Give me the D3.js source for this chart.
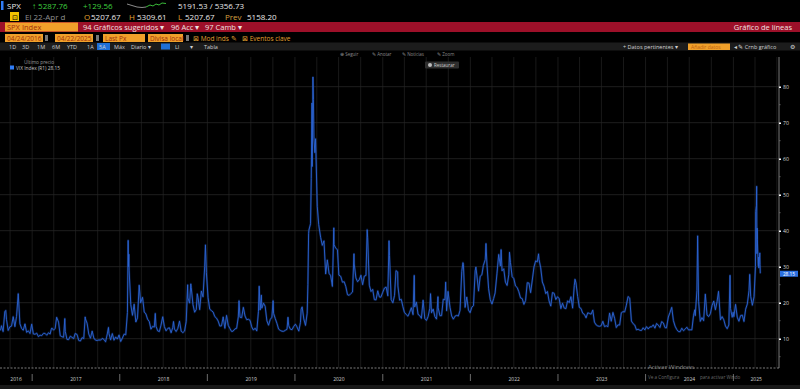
<!DOCTYPE html>
<html><head><meta charset="utf-8">
<script src="https://cdn.jsdelivr.net/npm/d3@7"></script>
<style>
body{margin:0;background:#000;}
svg{display:block;font-family:"Open Sans","Liberation Sans",sans-serif;}
</style>
</head><body><svg id="c" width="800" height="389"></svg>
<script>
// ---- DATA ----
const vixSeries = [
["2016-08-22",12.3],["2016-08-26",13.6],["2016-09-02",11.98],["2016-09-09",17.50],["2016-09-13",17.85],["2016-09-16",15.37],["2016-09-23",12.29],["2016-09-30",13.29],
["2016-10-07",13.48],["2016-10-14",16.12],["2016-10-21",13.34],["2016-10-28",16.19],["2016-11-04",22.51],["2016-11-11",14.17],["2016-11-18",12.85],["2016-11-25",12.34],
["2016-12-02",14.12],["2016-12-09",11.75],["2016-12-16",12.20],["2016-12-23",11.44],["2016-12-30",14.04],
["2017-01-06",11.32],["2017-01-13",11.23],["2017-01-20",11.54],["2017-01-27",10.58],["2017-02-03",10.97],["2017-02-10",10.85],["2017-02-17",11.49],["2017-02-24",11.47],
["2017-03-03",10.96],["2017-03-10",11.66],["2017-03-17",11.28],["2017-03-21",12.47],["2017-03-24",12.96],["2017-03-31",12.37],["2017-04-07",12.87],["2017-04-13",15.96],
["2017-04-21",14.63],["2017-04-28",10.82],["2017-05-05",10.57],["2017-05-12",10.40],["2017-05-17",15.59],["2017-05-19",12.04],["2017-05-26",9.81],["2017-06-02",9.75],
["2017-06-09",10.70],["2017-06-16",10.38],["2017-06-23",10.02],["2017-06-29",11.44],["2017-07-07",11.19],["2017-07-14",9.51],["2017-07-21",9.36],["2017-07-28",10.29],
["2017-08-04",10.03],["2017-08-10",16.04],["2017-08-11",15.51],["2017-08-18",14.26],["2017-08-25",11.28],["2017-09-01",10.13],["2017-09-08",12.12],["2017-09-15",10.17],
["2017-09-22",9.59],["2017-09-29",9.51],["2017-10-06",9.65],["2017-10-13",9.61],["2017-10-20",10.08],["2017-10-27",9.80],["2017-11-03",9.14],["2017-11-10",11.29],
["2017-11-15",13.13],["2017-11-17",11.43],["2017-11-24",9.67],["2017-12-01",11.43],["2017-12-08",9.58],["2017-12-15",10.49],["2017-12-22",9.90],["2017-12-29",11.04],
["2018-01-05",9.22],["2018-01-12",10.16],["2018-01-19",11.27],["2018-01-26",11.08],["2018-02-02",17.31],["2018-02-05",37.32],["2018-02-06",29.98],["2018-02-08",33.46],
["2018-02-09",29.06],["2018-02-16",19.46],["2018-02-23",16.49],["2018-03-02",19.59],["2018-03-09",14.64],["2018-03-16",15.80],["2018-03-23",24.87],["2018-03-29",19.97],
["2018-04-06",21.49],["2018-04-13",17.41],["2018-04-20",16.88],["2018-04-27",15.41],["2018-05-04",14.77],["2018-05-11",12.65],["2018-05-18",13.42],["2018-05-25",13.22],
["2018-05-29",17.02],["2018-06-01",13.46],["2018-06-08",12.18],["2018-06-15",11.98],["2018-06-22",13.77],["2018-06-29",16.09],["2018-07-06",13.37],["2018-07-13",12.18],
["2018-07-20",12.86],["2018-07-27",13.03],["2018-08-03",11.64],["2018-08-10",13.16],["2018-08-13",14.78],["2018-08-17",12.64],["2018-08-24",11.99],["2018-08-31",12.86],
["2018-09-07",14.88],["2018-09-14",12.07],["2018-09-21",11.68],["2018-09-28",12.12],["2018-10-05",14.82],["2018-10-11",24.98],["2018-10-12",21.31],["2018-10-19",19.89],
["2018-10-24",25.23],["2018-10-26",24.16],["2018-11-02",19.51],["2018-11-09",17.36],["2018-11-16",18.14],["2018-11-20",22.48],["2018-11-23",21.52],["2018-11-30",18.07],
["2018-12-07",23.23],["2018-12-14",21.63],["2018-12-21",30.11],["2018-12-24",36.07],["2018-12-28",28.34],
["2019-01-04",21.38],["2019-01-11",18.19],["2019-01-18",17.80],["2019-01-25",17.42],["2019-02-01",16.14],["2019-02-08",15.72],["2019-02-15",14.91],["2019-02-22",13.51],
["2019-03-01",13.57],["2019-03-08",16.05],["2019-03-15",12.88],["2019-03-22",16.48],["2019-03-29",13.71],["2019-04-05",12.82],["2019-04-12",12.01],["2019-04-18",12.09],
["2019-04-26",12.73],["2019-05-03",12.87],["2019-05-10",16.04],["2019-05-13",20.55],["2019-05-17",15.96],["2019-05-24",15.85],["2019-05-31",18.71],["2019-06-07",16.30],
["2019-06-14",15.28],["2019-06-21",15.40],["2019-06-28",15.08],["2019-07-05",13.28],["2019-07-12",12.39],["2019-07-19",12.93],["2019-07-26",12.16],["2019-08-02",17.61],
["2019-08-05",24.59],["2019-08-09",17.97],["2019-08-14",22.10],["2019-08-16",18.47],["2019-08-23",19.87],["2019-08-30",18.98],["2019-09-06",15.00],["2019-09-13",13.74],
["2019-09-20",15.32],["2019-09-27",15.96],["2019-10-02",20.56],["2019-10-04",17.04],["2019-10-11",15.58],["2019-10-18",14.25],["2019-10-25",12.65],["2019-11-01",12.30],
["2019-11-08",12.07],["2019-11-15",12.05],["2019-11-22",12.34],["2019-11-29",12.62],["2019-12-03",15.96],["2019-12-06",13.62],["2019-12-13",12.63],["2019-12-20",12.51],["2019-12-27",13.43],
["2020-01-03",14.02],["2020-01-08",13.45],["2020-01-17",12.10],["2020-01-24",14.56],["2020-01-27",18.23],["2020-01-31",18.84],["2020-02-07",15.47],["2020-02-14",13.68],
["2020-02-21",17.08],["2020-02-24",25.03],["2020-02-27",39.16],["2020-02-28",40.11],["2020-03-06",41.94],["2020-03-09",54.46],["2020-03-12",75.47],["2020-03-13",57.83],
["2020-03-16",82.69],["2020-03-18",76.45],["2020-03-20",66.04],["2020-03-24",61.67],["2020-03-27",65.54],["2020-04-03",46.80],["2020-04-09",41.67],["2020-04-17",38.15],
["2020-04-24",35.93],["2020-05-01",37.19],["2020-05-08",27.98],["2020-05-15",31.89],["2020-05-22",28.16],["2020-05-29",27.51],["2020-06-05",24.52],["2020-06-11",40.79],
["2020-06-12",36.09],["2020-06-19",35.12],["2020-06-26",34.73],["2020-07-02",27.68],["2020-07-10",27.29],["2020-07-17",25.68],["2020-07-24",25.84],["2020-07-31",24.46],
["2020-08-07",22.21],["2020-08-14",22.05],["2020-08-21",22.54],["2020-08-28",22.96],["2020-09-03",33.60],["2020-09-04",30.75],["2020-09-11",26.87],["2020-09-18",25.83],
["2020-09-25",26.38],["2020-10-02",27.63],["2020-10-09",25.00],["2020-10-16",27.41],["2020-10-23",27.55],["2020-10-28",40.28],["2020-10-30",38.02],["2020-11-06",24.86],
["2020-11-13",23.10],["2020-11-20",23.70],["2020-11-27",20.84],["2020-12-04",20.79],["2020-12-11",23.31],["2020-12-18",21.57],["2020-12-24",21.53],["2020-12-31",22.75],
["2021-01-08",24.08],["2021-01-15",24.34],["2021-01-22",21.91],["2021-01-27",37.21],["2021-01-29",33.09],["2021-02-05",20.87],["2021-02-12",19.97],["2021-02-19",22.05],
["2021-02-25",28.89],["2021-03-04",28.57],["2021-03-05",24.66],["2021-03-12",20.69],["2021-03-19",20.95],["2021-03-26",18.86],["2021-04-01",17.33],["2021-04-09",16.69],
["2021-04-16",16.25],["2021-04-23",17.33],["2021-04-30",18.61],["2021-05-07",16.69],["2021-05-12",27.59],["2021-05-14",18.81],["2021-05-21",20.15],["2021-05-28",16.76],
["2021-06-04",16.42],["2021-06-11",15.65],["2021-06-18",20.70],["2021-06-25",15.62],["2021-07-02",15.07],["2021-07-09",16.18],["2021-07-16",18.45],["2021-07-19",22.50],
["2021-07-23",17.20],["2021-07-30",18.24],["2021-08-06",16.15],["2021-08-13",15.45],["2021-08-19",21.67],["2021-08-20",18.56],["2021-08-27",16.39],["2021-09-03",16.41],
["2021-09-10",20.95],["2021-09-17",20.81],["2021-09-20",25.71],["2021-09-24",17.75],["2021-09-30",23.14],["2021-10-08",18.77],["2021-10-15",16.30],["2021-10-22",15.43],
["2021-10-29",16.26],["2021-11-05",16.48],["2021-11-12",16.29],["2021-11-19",17.91],["2021-11-26",28.62],["2021-12-01",31.12],["2021-12-03",30.67],["2021-12-10",18.69],
["2021-12-17",21.57],["2021-12-24",17.96],["2021-12-31",17.22],
["2022-01-07",18.76],["2022-01-14",19.19],["2022-01-21",28.85],["2022-01-24",29.90],["2022-01-28",27.66],["2022-02-04",23.22],["2022-02-11",27.36],["2022-02-18",27.75],
["2022-02-24",30.32],["2022-03-04",31.98],["2022-03-07",36.45],["2022-03-11",30.75],["2022-03-18",23.87],["2022-03-25",20.81],["2022-04-01",19.63],["2022-04-08",21.16],
["2022-04-14",22.70],["2022-04-22",28.21],["2022-04-29",33.40],["2022-05-06",30.19],["2022-05-09",34.75],["2022-05-13",28.87],["2022-05-20",29.43],["2022-05-27",25.72],
["2022-06-03",24.79],["2022-06-10",27.75],["2022-06-13",34.02],["2022-06-17",31.13],["2022-06-24",27.23],["2022-07-01",26.70],["2022-07-08",24.64],["2022-07-15",24.23],
["2022-07-22",23.03],["2022-07-29",21.33],["2022-08-05",21.15],["2022-08-12",19.53],["2022-08-19",20.60],["2022-08-26",25.56],["2022-09-02",25.47],["2022-09-09",22.79],
["2022-09-16",26.30],["2022-09-23",29.92],["2022-09-30",31.62],["2022-10-07",31.36],["2022-10-12",33.57],["2022-10-14",32.02],["2022-10-21",29.69],["2022-10-28",25.75],
["2022-11-04",24.55],["2022-11-11",22.52],["2022-11-18",23.12],["2022-11-25",20.50],["2022-12-02",19.06],["2022-12-09",22.83],["2022-12-16",22.62],["2022-12-23",20.87],["2022-12-30",21.67],
["2023-01-06",21.13],["2023-01-13",18.35],["2023-01-20",19.85],["2023-01-27",18.51],["2023-02-03",18.33],["2023-02-10",20.53],["2023-02-17",20.02],["2023-02-24",21.67],
["2023-03-03",18.49],["2023-03-10",24.80],["2023-03-13",26.52],["2023-03-17",25.51],["2023-03-24",21.74],["2023-03-31",18.70],["2023-04-07",18.40],["2023-04-14",17.07],
["2023-04-21",16.77],["2023-04-28",15.78],["2023-05-05",17.19],["2023-05-12",17.03],["2023-05-19",16.81],["2023-05-26",17.95],["2023-06-02",14.60],["2023-06-09",13.83],
["2023-06-16",13.54],["2023-06-23",13.44],["2023-06-30",13.59],["2023-07-07",14.83],["2023-07-14",13.34],["2023-07-21",13.60],["2023-07-28",13.33],["2023-08-04",17.10],
["2023-08-11",14.84],["2023-08-18",17.30],["2023-08-25",15.68],["2023-09-01",13.09],["2023-09-08",13.84],["2023-09-15",13.79],["2023-09-22",17.20],["2023-09-29",17.52],
["2023-10-06",17.45],["2023-10-13",19.32],["2023-10-20",21.71],["2023-10-27",21.27],["2023-11-03",14.91],["2023-11-10",14.17],["2023-11-17",13.80],["2023-11-24",12.46],
["2023-12-01",12.63],["2023-12-08",12.35],["2023-12-15",12.28],["2023-12-22",13.03],["2023-12-29",12.45],
["2024-01-05",13.35],["2024-01-12",12.70],["2024-01-19",13.30],["2024-01-26",13.26],["2024-02-02",13.85],["2024-02-09",12.93],["2024-02-16",14.24],["2024-02-23",13.75],
["2024-03-01",13.11],["2024-03-08",14.74],["2024-03-15",14.41],["2024-03-22",13.06],["2024-03-28",13.01],["2024-04-05",16.03],["2024-04-12",17.31],["2024-04-19",18.71],
["2024-04-26",15.03],["2024-05-03",13.49],["2024-05-10",12.55],["2024-05-17",11.99],["2024-05-24",11.93],["2024-05-31",12.92],["2024-06-07",12.22],["2024-06-14",12.66],
["2024-06-21",13.20],["2024-06-28",12.44],["2024-07-05",12.48],["2024-07-12",12.46],["2024-07-19",16.52],["2024-07-24",18.04],["2024-07-26",16.39],["2024-08-02",23.39],
["2024-08-05",38.57],["2024-08-09",20.37],["2024-08-16",14.80],["2024-08-23",15.86],["2024-08-30",15.00],["2024-09-06",22.38],["2024-09-13",16.56],["2024-09-20",16.15],
["2024-09-27",16.96],["2024-10-04",19.21],["2024-10-11",20.46],["2024-10-18",18.03],["2024-10-25",20.33],["2024-10-31",23.16],["2024-11-08",15.24],["2024-11-15",16.14],
["2024-11-22",15.24],["2024-11-29",13.51],["2024-12-06",12.77],["2024-12-13",13.81],["2024-12-18",27.62],["2024-12-20",18.36],["2024-12-27",15.95],["2024-12-31",17.35],
["2025-01-03",16.13],["2025-01-10",19.54],["2025-01-17",15.97],["2025-01-24",14.85],["2025-01-31",16.43],["2025-02-07",16.54],["2025-02-14",14.77],["2025-02-21",18.21],
["2025-02-28",19.63],["2025-03-07",23.37],["2025-03-10",27.86],["2025-03-14",21.77],["2025-03-21",19.28],["2025-03-28",21.65],["2025-04-03",30.02],["2025-04-04",45.31],
["2025-04-07",46.98],["2025-04-08",52.33],["2025-04-09",33.62],["2025-04-10",40.72],["2025-04-11",37.56],["2025-04-14",30.89],["2025-04-15",30.12],["2025-04-16",32.64],
["2025-04-17",29.65],["2025-04-21",33.82],["2025-04-22",30.57],["2025-04-23",28.15]
];
const yTicks = [10,20,30,40,50,60,70,80];
const yearLabels = ["2016","2017","2018","2019","2020","2021","2022","2023","2024","2025"];
const lastPrice = "28.15";

// ---- SETUP ----
const svg = d3.select("#c");
const W = 800, H = 389;
const parse = d3.timeParse("%Y-%m-%d");
const data = vixSeries.map(d => ({date: parse(d[0]), v: d[1]}));

const plotL = 0, plotR = 779, plotT = 57, plotB = 368;
const x = d3.scaleTime().domain([new Date(2016,7,20), new Date(2025,6,10)]).range([plotL, plotR]);
const y = d3.scaleLinear().domain([10,80]).range([338.7, 86.7]);

svg.append("rect").attr("width",W).attr("height",H).attr("fill","#000");

// ---- HEADER ----
const hdr = svg.append("g").attr("font-size",8);
hdr.append("rect").attr("x",1).attr("y",1).attr("width",2.5).attr("height",9).attr("fill","#2f7cf6");
hdr.append("text").attr("x",7).attr("y",9).attr("fill","#e8e8e8").text("SPX");
hdr.append("text").attr("x",32).attr("y",9).attr("fill","#3fcf3f").text("↑ 5287.76");
hdr.append("text").attr("x",83).attr("y",9).attr("fill","#3fcf3f").text("+129.56");
const spark = [[127,4],[132,5.5],[137,7],[142,7.5],[146,7]];
const spark2 = [[146,7],[150,5],[153,6],[156,4],[159,5],[162,3],[166,3.5]];
hdr.append("path").attr("d",d3.line()(spark)).attr("stroke","#9a9a9a").attr("fill","none").attr("stroke-width",0.9);
hdr.append("path").attr("d",d3.line()(spark2)).attr("stroke","#3fcf3f").attr("fill","none").attr("stroke-width",0.9);
hdr.append("text").attr("x",178).attr("y",9).attr("fill","#e8e8e8").text("5191.53 / 5356.73");
hdr.append("rect").attr("x",10).attr("y",12).attr("width",9).attr("height",9).attr("fill","#f2c200");
hdr.append("text").attr("x",12).attr("y",19.5).attr("fill","#000").attr("font-size",7).text("⊡");
hdr.append("text").attr("x",25).attr("y",20).attr("fill","#8f8f8f").text("El 22-Apr d");
[["O",84,"5207.67",91],["H",129,"5309.61",137],["L",178,"5207.67",185]].forEach(r=>{
  hdr.append("text").attr("x",r[1]).attr("y",20).attr("fill","#e0a030").text(r[0]);
  hdr.append("text").attr("x",r[3]).attr("y",20).attr("fill","#e8e8e8").text(r[2]);
});
hdr.append("text").attr("x",225).attr("y",20).attr("fill","#d8a040").text("Prev");
hdr.append("text").attr("x",247).attr("y",20).attr("fill","#e8e8e8").text("5158.20");
hdr.append("rect").attr("x",0).attr("y",22).attr("width",W).attr("height",10).attr("fill","#9d1029");
hdr.append("rect").attr("x",5).attr("y",22.5).attr("width",73).attr("height",9).attr("fill","#f0a02a");
hdr.append("text").attr("x",7).attr("y",30).attr("fill","#a0300a").attr("font-size",7.5).text("SPX Index");
hdr.append("text").attr("x",83).attr("y",30).attr("fill","#f0e0e0").attr("font-size",7.5).text("94 Gráficos sugeridos ▾");
hdr.append("text").attr("x",171).attr("y",30).attr("fill","#f0e0e0").attr("font-size",7.5).text("96 Acc ▾");
hdr.append("text").attr("x",205).attr("y",30).attr("fill","#f0e0e0").attr("font-size",7.5).text("97 Camb ▾");
hdr.append("text").attr("x",792).attr("y",30).attr("text-anchor","end").attr("fill","#f0e0e0").attr("font-size",7.5).text("Gráfico de líneas");
[[5,38,"04/24/2016"],[55,38,"04/22/2025"],[103,42,"Last Px"],[148,35,"Divisa local"]].forEach(f=>{
  hdr.append("rect").attr("x",f[0]).attr("y",34).attr("width",f[1]).attr("height",8).attr("fill","#f0a02a");
  hdr.append("text").attr("x",f[0]+2).attr("y",40.5).attr("fill","#a0300a").attr("font-size",6.5).text(f[2]);
});
[45,96,186].forEach(px=>hdr.append("rect").attr("x",px).attr("y",35).attr("width",3).attr("height",6).attr("fill","#777"));
hdr.append("text").attr("x",193).attr("y",40.5).attr("fill","#e0a030").attr("font-size",6.5).text("⊠ Mod inds ✎");
hdr.append("text").attr("x",242).attr("y",40.5).attr("fill","#e0a030").attr("font-size",6.5).text("⊠ Eventos clave");
hdr.append("rect").attr("x",0).attr("y",42.5).attr("width",W).attr("height",8).attr("fill","#1c1c1c");
hdr.append("rect").attr("x",97).attr("y",43).attr("width",13).attr("height",7).attr("fill","#1f6fd6");
hdr.append("rect").attr("x",161).attr("y",43.5).attr("width",9).attr("height",6).attr("fill","#1f6fd6");
[["1D",9],["3D",22],["1M",37],["6M",52],["YTD",67],["1A",87],["5A",99],["Máx",114],["Diario ▾",131],["LI",175],["▾",190],["Tabla",204]].forEach(t=>{
  hdr.append("text").attr("x",t[1]).attr("y",48.8).attr("fill","#d0d0d0").attr("font-size",5.5).text(t[0]);
});
hdr.append("text").attr("x",623).attr("y",48.8).attr("fill","#d0d0d0").attr("font-size",5.5).text("+ Datos pertinentes ▾");
hdr.append("rect").attr("x",688).attr("y",43.5).attr("width",42).attr("height",6.5).attr("fill","#f0a02a");
hdr.append("text").attr("x",691).attr("y",48.8).attr("fill","#c06010").attr("font-size",5).text("Añadir datos");
hdr.append("text").attr("x",734).attr("y",48.8).attr("fill","#d0d0d0").attr("font-size",5.5).text("◂ ✎ Crnb gráfico");
hdr.append("text").attr("x",790).attr("y",48.8).attr("fill","#d0d0d0").attr("font-size",6).text("⚙");
[["⊕ Seguir",340],["✎ Anotar",372],["✎ Noticias",402],["✎ Zoom",437]].forEach(t=>{
  hdr.append("text").attr("x",t[1]).attr("y",56).attr("fill","#8a8a8a").attr("font-size",4.5).text(t[0]);
});

// ---- GRID ----
const grid = svg.append("g");
const quarters = d3.timeMonth.every(3).range(x.domain()[0], x.domain()[1]);
grid.selectAll("line.v").data(quarters).join("line")
  .attr("x1",d=>x(d)).attr("x2",d=>x(d)).attr("y1",plotT).attr("y2",plotB)
  .attr("stroke","#1f1f1f").attr("stroke-width",0.8);
grid.selectAll("line.h").data(yTicks).join("line")
  .attr("x1",plotL).attr("x2",plotR).attr("y1",d=>y(d)).attr("y2",d=>y(d))
  .attr("stroke","#262626").attr("stroke-width",0.8);

// ---- watermark (under axis labels) ----
svg.append("text").attr("x",648).attr("y",369).attr("fill","#7a7a7a").attr("font-size",6).text("Activar Windows");
svg.append("text").attr("x",648).attr("y",379).attr("fill","#6a6a6a").attr("font-size",4.6).text("Ve a Configura");
svg.append("text").attr("x",700).attr("y",379).attr("fill","#6a6a6a").attr("font-size",4.6).text("para activar Windo");

// ---- LINE ----
const line = d3.line().x(d=>x(d.date)).y(d=>y(d.v)).curve(d3.curveLinear);
svg.append("path").datum(data).attr("d",line).attr("fill","none")
  .attr("stroke","#1a46a0").attr("stroke-opacity",0.35).attr("stroke-width",2.2).attr("stroke-linejoin","round");
svg.append("path").datum(data).attr("d",line).attr("fill","none")
  .attr("stroke","#2b64d4").attr("stroke-width",0.9).attr("stroke-linejoin","round");

// ---- Y AXIS (right) ----
svg.append("line").attr("x1",plotR).attr("x2",plotR).attr("y1",plotT).attr("y2",plotB)
  .attr("stroke","#9a9a9a").attr("stroke-width",0.8);
const minor = d3.range(5,85,5).filter(v=>v%10!==0);
svg.selectAll("line.mn").data(minor).join("line")
  .attr("x1",plotR).attr("x2",plotR+1.5).attr("y1",d=>y(d)).attr("y2",d=>y(d)).attr("stroke","#666");
const yAxis = d3.axisRight(y).tickValues(yTicks).tickSize(2).tickPadding(2);
const ya = svg.append("g").attr("transform",`translate(${plotR},0)`).call(yAxis);
ya.select(".domain").remove();
ya.selectAll(".tick line").attr("stroke","#fff").attr("stroke-width",1.5);
ya.selectAll(".tick text").attr("fill","#d8d8d8").attr("font-size",5.2).attr("font-family","Open Sans, sans-serif")
  .attr("dy","0.3em");
const ly = y(+lastPrice);
svg.append("rect").attr("x",plotR+1).attr("y",ly-2.6).attr("width",18).attr("height",6).attr("fill","#2a6fe0");
svg.append("text").attr("x",plotR+10).attr("y",ly+2.2).attr("text-anchor","middle").attr("fill","#fff").attr("font-size",4.8).text(lastPrice);

// ---- X AXIS ----
svg.append("line").attr("x1",plotL).attr("x2",plotR).attr("y1",plotB).attr("y2",plotB)
  .attr("stroke","#9a9a9a").attr("stroke-width",0.8).attr("stroke-dasharray","2,1.5");
const yearStarts = yearLabels.map(s=>new Date(+s,0,1));
const bounds = yearLabels.map((s,i)=>[Math.max(x(new Date(+s,0,1)),plotL), Math.min(x(new Date(+s+1,0,1)),plotR)]);
svg.selectAll("line.yb").data(yearStarts.slice(1)).join("line")
  .attr("x1",d=>x(d)).attr("x2",d=>x(d)).attr("y1",374).attr("y2",381)
  .attr("stroke","#9a9a9a").attr("stroke-width",0.7);
svg.selectAll("rect.yl").data(yearLabels).join("rect")
  .attr("x",(d,i)=>(bounds[i][0]+bounds[i][1])/2-6).attr("y",375.5).attr("width",12).attr("height",6)
  .attr("fill","#000");
svg.selectAll("text.yl").data(yearLabels).join("text")
  .attr("x",(d,i)=>(bounds[i][0]+bounds[i][1])/2).attr("y",380.5)
  .attr("text-anchor","middle").attr("fill","#cfcfcf").attr("font-size",5).text(d=>d);
svg.append("rect").attr("x",0).attr("y",385).attr("width",W).attr("height",4).attr("fill","#181818");

// ---- LEGEND ----
svg.append("text").attr("x",24).attr("y",63.5).attr("fill","#9a9a9a").attr("font-size",4.8).text("Último precio");
svg.append("rect").attr("x",10).attr("y",65.5).attr("width",4).attr("height",4).attr("fill","#2f7cf6");
svg.append("text").attr("x",16).attr("y",69.5).attr("fill","#c8c8c8").attr("font-size",4.8).text("VIX Index  (R1)  28.15");
svg.append("rect").attr("x",425).attr("y",61.5).attr("width",34).attr("height",7).attr("rx",1).attr("fill","#2e2e2e");
svg.append("circle").attr("cx",430).attr("cy",65).attr("r",2).attr("fill","#bbb");
svg.append("text").attr("x",434).attr("y",67).attr("fill","#d0d0d0").attr("font-size",4.5).text("Restaurar");
</script>
</body></html>
